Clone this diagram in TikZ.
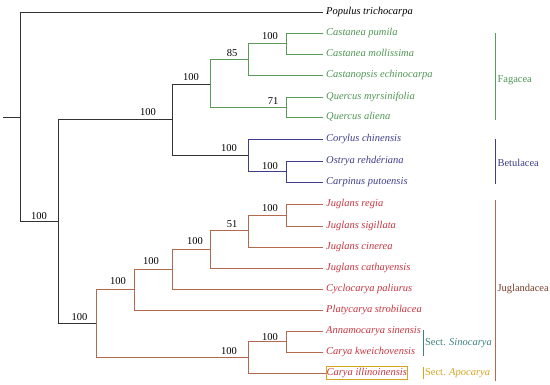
\documentclass[tikz,border=0pt]{standalone}
\usepackage{fontspec}
\setmainfont{Liberation Serif}
\definecolor{blk}{HTML}{333333}
\definecolor{fgreen}{HTML}{5A9A5A}
\definecolor{fgtext}{HTML}{4E9652}
\definecolor{bblue}{HTML}{3D3D8C}
\definecolor{jbrown}{HTML}{B2694E}
\definecolor{jtext}{HTML}{C8343F}
\definecolor{jlabel}{HTML}{7A3E2C}
\definecolor{steal}{HTML}{3F8080}
\definecolor{sgold}{HTML}{D6A421}
\begin{document}
\begin{tikzpicture}[x=1pt,y=-1pt,
  br/.style={line width=0.8pt},
  leaf/.style={anchor=west,inner xsep=3pt,inner ysep=0pt,text height=7pt,text depth=2.3pt,font=\fontsize{10.5}{12}\selectfont\itshape},
  bs/.style={inner sep=0pt,font=\fontsize{10.5}{12}\selectfont,text=black},
  grp/.style={anchor=west,inner xsep=1.8pt,inner ysep=0pt,font=\fontsize{10.5}{12}\selectfont}]
\useasboundingbox (0,0) rectangle (550,384);
% internal nodes
\coordinate (rootstub) at (3,117);
\coordinate (root) at (20,117);
\coordinate (n1) at (58,221.5);
\coordinate (fagales) at (172,119.5);
\coordinate (fag) at (210,84);
\coordinate (n85) at (248,59.5);
\coordinate (cast) at (286,43.5);
\coordinate (quer) at (286,107.25);
\coordinate (bet) at (248,155.5);
\coordinate (ostr) at (286,171.75);
\coordinate (jug) at (96,323.5);
\coordinate (j1) at (134,289.5);
\coordinate (j2) at (172,269);
\coordinate (j3) at (210,249.5);
\coordinate (j4) at (248,230.5);
\coordinate (jr) at (286,215);
\coordinate (carya) at (248,357.5);
\coordinate (sino) at (286,341.5);
% leaves
\node[leaf,text=black] (populus) at (323,12) {Populus trichocarpa};
\node[leaf,text=fgtext] (pumila) at (323,33) {Castanea pumila};
\node[leaf,text=fgtext] (molli) at (323,54) {Castanea mollissima};
\node[leaf,text=fgtext] (castan) at (323,75.5) {Castanopsis echinocarpa};
\node[leaf,text=fgtext] (myrs) at (323,97) {Quercus myrsinifolia};
\node[leaf,text=fgtext] (aliena) at (323,117.5) {Quercus aliena};
\node[leaf,text=bblue] (corylus) at (323,139) {Corylus chinensis};
\node[leaf,text=bblue] (ostrya) at (323,161.5) {Ostrya rehdériana};
\node[leaf,text=bblue] (carpinus) at (323,182) {Carpinus putoensis};
\node[leaf,text=jtext] (regia) at (323,204) {Juglans regia};
\node[leaf,text=jtext] (sigil) at (323,226) {Juglans sigillata};
\node[leaf,text=jtext] (cinerea) at (323,247) {Juglans cinerea};
\node[leaf,text=jtext] (cathay) at (323,268.5) {Juglans cathayensis};
\node[leaf,text=jtext] (cyclo) at (323,289) {Cyclocarya paliurus};
\node[leaf,text=jtext] (platy) at (323,310) {Platycarya strobilacea};
\node[leaf,text=jtext] (anna) at (323,331) {Annamocarya sinensis};
\node[leaf,text=jtext] (kwei) at (323,352) {Carya kweichovensis};
\node[leaf,text=jtext,draw=sgold,line width=0.7pt,inner xsep=0.8pt,inner ysep=1.8pt] (illino) at (325.5,373) {Carya illinoinensis};
% branches
\draw[br,blk] (rootstub) -- (root);
\draw[br,blk] (root) |- (populus.west);
\draw[br,blk] (root) |- (n1);
\draw[br,blk] (n1) |- (fagales);
\draw[br,blk] (n1) |- (jug);
\draw[br,blk] (fagales) |- (fag);
\draw[br,blk] (fagales) |- (bet);
\draw[br,fgreen] (fag) |- (n85);
\draw[br,fgreen] (fag) |- (quer);
\draw[br,fgreen] (n85) |- (cast);
\draw[br,fgreen] (n85) |- (castan.west);
\draw[br,fgreen] (cast) |- (pumila.west);
\draw[br,fgreen] (cast) |- (molli.west);
\draw[br,fgreen] (quer) |- (myrs.west);
\draw[br,fgreen] (quer) |- (aliena.west);
\draw[br,bblue] (bet) |- (corylus.west);
\draw[br,bblue] (bet) |- (ostr);
\draw[br,bblue] (ostr) |- (ostrya.west);
\draw[br,bblue] (ostr) |- (carpinus.west);
\draw[br,jbrown] (jug) |- (j1);
\draw[br,jbrown] (jug) |- (carya);
\draw[br,jbrown] (j1) |- (j2);
\draw[br,jbrown] (j1) |- (platy.west);
\draw[br,jbrown] (j2) |- (j3);
\draw[br,jbrown] (j2) |- (cyclo.west);
\draw[br,jbrown] (j3) |- (j4);
\draw[br,jbrown] (j3) |- (cathay.west);
\draw[br,jbrown] (j4) |- (jr);
\draw[br,jbrown] (j4) |- (cinerea.west);
\draw[br,jbrown] (jr) |- (regia.west);
\draw[br,jbrown] (jr) |- (sigil.west);
\draw[br,jbrown] (carya) |- (sino);
\draw[br,jbrown] (carya) |- (illino.west);
\draw[br,jbrown] (sino) |- (anna.west);
\draw[br,jbrown] (sino) |- (kwei.west);
% bootstrap values
\node[bs] (b1) at (39,216) {100};
\node[bs] (b2) at (148,112) {100};
\node[bs] (b3) at (191,77) {100};
\node[bs] (b4) at (232,53) {85};
\node[bs] (b5) at (270,36) {100};
\node[bs] (b6) at (273,101) {71};
\node[bs] (b7) at (229,148) {100};
\node[bs] (b8) at (270,166) {100};
\node[bs] (b9) at (79.5,317) {100};
\node[bs] (b10) at (118,281) {100};
\node[bs] (b11) at (151,261) {100};
\node[bs] (b12) at (195,241) {100};
\node[bs] (b13) at (232,224) {51};
\node[bs] (b14) at (270,208) {100};
\node[bs] (b15) at (229,351) {100};
\node[bs] (b16) at (270,337) {100};
% group brackets
\coordinate (fa1) at (495.5,33);
\coordinate (fa2) at (495.5,120);
\coordinate (be1) at (495.5,139);
\coordinate (be2) at (495.5,184);
\coordinate (ju1) at (495.5,200);
\coordinate (ju2) at (495.5,381);
\coordinate (si1) at (423,330);
\coordinate (si2) at (423,356);
\coordinate (ap1) at (423,367);
\coordinate (ap2) at (423,379);
\draw[br,fgreen] (fa1) -- (fa2);
\draw[br,bblue] (be1) -- (be2);
\draw[br,jbrown] (ju1) -- (ju2);
\draw[line width=0.6pt,steal] (si1) -- (si2);
\draw[line width=0.6pt,sgold] (ap1) -- (ap2);
\node[grp,text=fgtext] (gfag) at (495.5,80) {Fagacea};
\node[grp,text=bblue] (gbet) at (495.5,163) {Betulacea};
\node[grp,text=jlabel] (gjug) at (495.5,289) {Juglandacea};
\node[grp,text=steal] (gsino) at (423,343) {Sect. \textit{Sinocarya}};
\node[grp,text=sgold] (gapo) at (423,373) {Sect. \textit{Apocarya}};
\end{tikzpicture}
\end{document}
